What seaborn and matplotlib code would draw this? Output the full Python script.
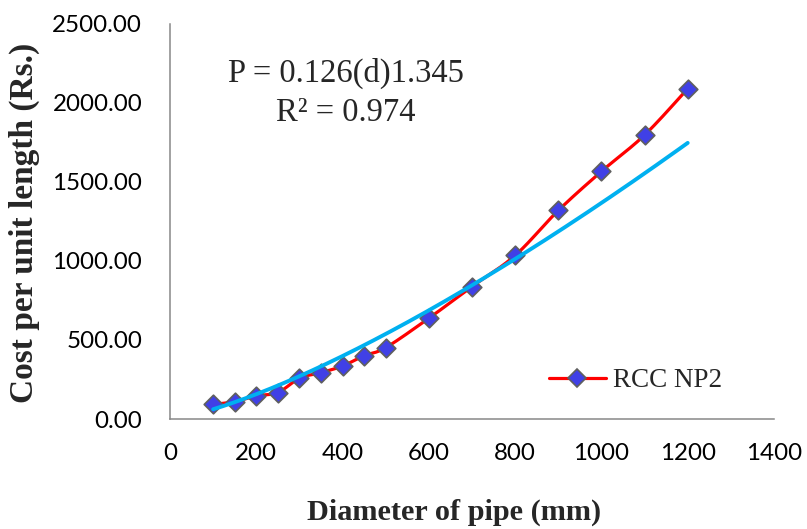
import numpy as np
import pandas as pd
import matplotlib
matplotlib.use("Agg")
import matplotlib.pyplot as plt
import seaborn as sns
from matplotlib.lines import Line2D
from matplotlib.ticker import FormatStrFormatter

# Pipe diameter (mm) and cost per unit length (Rs.)
diameter_mm = [100, 150, 200, 250, 300, 350, 400, 450, 500, 600, 700, 800, 900, 1000, 1100, 1200]
cost_rs = [92, 110, 146, 167, 258, 293, 335, 400, 451, 637, 837, 1034, 1318, 1565, 1795, 2088]
series_name = "RCC NP2"

# Power-law trendline P = a * d^b
fit_coef = 0.126
fit_exp = 1.345
fit_r2 = 0.974

x_ticks = [0, 200, 400, 600, 800, 1000, 1200, 1400]
y_ticks = [0, 500, 1000, 1500, 2000, 2500]

RED = "#FF0000"
CYAN = "#00B0F0"
MARKER_FILL = "#4040E6"
MARKER_EDGE = "#5F5F5F"
AXIS_GRAY = "#878787"


def smooth_path(xs, ys, steps=24):
    """Bezier smoothing through every point (control points from neighbours)."""
    p = np.column_stack([xs, ys]).astype(float)
    padded = np.vstack([p[0], p, p[-1]])
    t = np.linspace(0, 1, steps + 1)[1:, None]
    out = [p[0]]
    for i in range(len(p) - 1):
        p0, p1, p2, p3 = padded[i], padded[i + 1], padded[i + 2], padded[i + 3]
        c1 = p1 + (p2 - p0) / 6.0
        c2 = p2 - (p3 - p1) / 6.0
        seg = (1 - t) ** 3 * p1 + 3 * (1 - t) ** 2 * t * c1 + 3 * (1 - t) * t ** 2 * c2 + t ** 3 * p2
        out.extend(seg)
    return np.array(out)


sns.set_style("white")
plt.rcParams["font.family"] = ["Liberation Serif", "DejaVu Serif"]

df = pd.DataFrame({"diameter": diameter_mm, "cost": cost_rs})
curve = smooth_path(df["diameter"], df["cost"])
curve_df = pd.DataFrame({"diameter": curve[:, 0], "cost": curve[:, 1]})

d_fit = np.linspace(min(diameter_mm), max(diameter_mm), 300)
fit_df = pd.DataFrame({"diameter": d_fit, "cost": fit_coef * d_fit ** fit_exp})

fig = plt.figure(figsize=(8.07, 5.29), dpi=100)
ax = fig.add_axes([170 / 807, 1 - 419 / 529, 604 / 807, 395.5 / 529])

sns.lineplot(data=curve_df, x="diameter", y="cost", sort=False, estimator=None,
             color=RED, linewidth=2.3, ax=ax, zorder=2)
sns.scatterplot(data=df, x="diameter", y="cost", marker="D", s=90,
                color=MARKER_FILL, edgecolor=MARKER_EDGE, linewidth=1.2, ax=ax, zorder=3)
sns.lineplot(data=fit_df, x="diameter", y="cost", sort=False, estimator=None,
             color=CYAN, linewidth=2.8, ax=ax, zorder=4)

ax.set_xlim(x_ticks[0], x_ticks[-1])
ax.set_ylim(y_ticks[0], y_ticks[-1])
ax.set_xticks(x_ticks)
ax.set_yticks(y_ticks)
ax.yaxis.set_major_formatter(FormatStrFormatter("%.2f"))

for side in ("top", "right"):
    ax.spines[side].set_visible(False)
for side in ("left", "bottom"):
    ax.spines[side].set_color(AXIS_GRAY)
    ax.spines[side].set_linewidth(1.1)

ax.tick_params(axis="both", direction="out", length=6.5, width=1.1, color=AXIS_GRAY,
               labelsize=17.4, labelcolor="black")
ax.tick_params(axis="y", pad=13.5)
ax.tick_params(axis="x", pad=11)
for lbl in ax.get_xticklabels() + ax.get_yticklabels():
    lbl.set_fontfamily(["Lato", "DejaVu Sans"])

ax.set_xlabel("Diameter of pipe (mm)", fontsize=21.8, fontweight="bold")
ax.set_ylabel("Cost per unit length (Rs.)", fontsize=24, fontweight="bold")
ax.xaxis.label.set_va("center")
ax.yaxis.label.set_va("center")
ax.xaxis.set_label_coords(0.47, -0.236)
ax.yaxis.set_label_coords(-0.2417, 0.497)

ax.text(0.2914, 0.8529, f"P = {fit_coef}(d){fit_exp}", transform=ax.transAxes,
        ha="center", va="baseline", fontsize=23.5)
ax.text(0.2914, 0.7535, f"R\u00b2 = {fit_r2}", transform=ax.transAxes,
        ha="center", va="baseline", fontsize=23.5)

handle = Line2D([], [], color=RED, linewidth=2.3, marker="D", markersize=9,
                markerfacecolor=MARKER_FILL, markeredgecolor=MARKER_EDGE, markeredgewidth=1.2)
ax.legend([handle], [series_name], loc="center left", bbox_to_anchor=(0.6275, 0.0968),
          frameon=False, fontsize=19.5, handlelength=2.1, handletextpad=0.25,
          borderpad=0, borderaxespad=0)

fig.savefig("out.png", dpi=100)
